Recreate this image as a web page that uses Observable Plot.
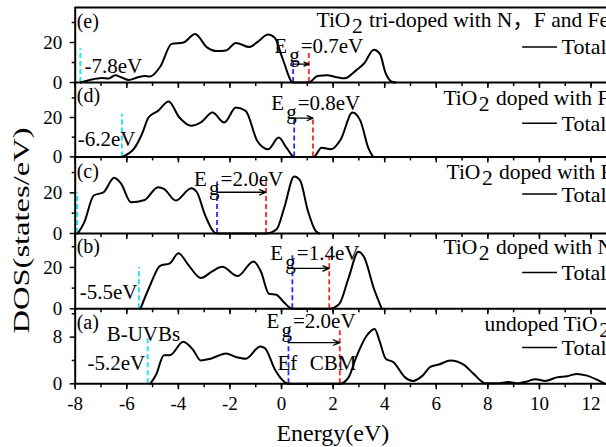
<!DOCTYPE html>
<html><head><meta charset="utf-8">
<script src="https://cdn.jsdelivr.net/npm/d3@7"></script>
<script src="https://cdn.jsdelivr.net/npm/@observablehq/plot@0.6"></script>
<style>
html,body{margin:0;padding:0;background:#fff;overflow:hidden;}
#chart{position:relative;width:606px;height:447px;overflow:hidden;background:#fff;}
</style></head><body><div id="chart"></div>
<script>
// ---------- DATA (panels listed top to bottom: e, d, c, b, a) ----------
const panelLetters = ["(e)", "(d)", "(c)", "(b)", "(a)"];
const titleMain = ["TiO", "TiO", "TiO", "TiO", "undoped TiO"];
const titleSub = ["2", "2", "2", "2", "2"];
const titleRest = ["tri-doped with N\uFF0CF and Fe", "doped with Fe", "doped with F", "doped with N", ""];
const legendText = "Total";
const egValues = ["=0.7eV", "=0.8eV", "=2.0eV", "=1.4eV", "=2.0eV"];
const bottomLabels = ["-7.8eV", "-6.2eV", "", "-5.5eV", "-5.2eV"];
const xTickValues = [-8, -6, -4, -2, 0, 2, 4, 6, 8, 10, 12];
const xMinorValues = [-8, -7, -6, -5, -4, -3, -2, -1, 0, 1, 2, 3, 4, 5, 6, 7, 8, 9, 10, 11, 12];
const yTickValues = [[0, 20], [0, 20], [0, 20], [0, 20], [0, 8]];
const yMinorValues = [[10, 30], [10, 30], [10, 30], [10, 30], [4, 12]];

// band edges (eV)
const bottomEnergy = [-7.8, -6.19, -7.92, -5.53, -5.19];
const vbmEnergy = [0.45, 0.49, -2.5, 0.42, 0.27];
const cbmEnergy = [1.06, 1.22, -0.6, 1.85, 2.26];

// total DOS curves
const energyE = [-7.8, -7.43, -6.97, -6.7, -6.45, -6.2, -5.92, -5.6, -5.3, -5.1, -4.7, -4.26, -3.8, -3.35, -2.9, -2.5, -2.15, -1.77, -1.24, -0.94, -0.52, -0.26, 0.04, 0.45, 1.06, 1.4, 1.77, 2.1, 2.45, 2.9, 3.2, 3.58, 3.81, 4.04, 4.26, 4.41];
const dosE = [0, 1.3, 2.3, 2.0, 3.6, 2.5, 1.3, 2.5, 3.3, 3.0, 8, 19.3, 20, 24.3, 17.7, 15.7, 16, 19.8, 17.7, 20.2, 24, 22.3, 12, 0, 0, 3.3, 3.6, 2.8, 2.1, 6.2, 9.5, 16.4, 14.4, 4.6, 0.5, 0];
const energyD = [-6.19, -5.69, -5.4, -5.16, -4.79, -4.38, -3.96, -3.5, -3.13, -2.68, -2.22, -1.77, -1.39, -0.94, -0.52, -0.11, 0.19, 0.49, 1.25, 1.55, 1.92, 2.3, 2.75, 3.06, 3.36, 3.55];
const dosD = [0, 4.7, 12, 20, 23.4, 28.1, 20, 15.8, 17.5, 22.5, 17.5, 25.1, 23.4, 8.1, 3.9, 9.8, 4.7, 0, 0, 4.7, 3.9, 9, 22.5, 18.3, 4.7, 0];
const energyC = [-7.9, -7.65, -7.28, -6.9, -6.49, -6.22, -5.84, -5.31, -4.79, -4.56, -4.1, -3.5, -3.28, -2.98, -2.6, -2.5, -0.6, -0.19, 0.11, 0.49, 0.72, 1.02, 1.32, 1.47];
const dosC = [0, 5.5, 18.7, 20.3, 27.4, 24.5, 15.4, 16.5, 22.8, 22, 16.2, 22.3, 20.3, 9.6, 0.5, 0, 0, 2.1, 12.9, 28.1, 26.1, 11.2, 1.3, 0];
const energyB = [-5.47, -5.09, -4.71, -4.33, -4.0, -3.6, -3.13, -2.7, -2.3, -1.7, -1.09, -0.8, -0.49, -0.2, 0.1, 0.42, 1.85, 2.23, 2.6, 2.98, 3.2, 3.58, 3.89];
const dosB = [0, 11.5, 20.8, 22, 26.8, 21, 14.9, 18, 20.3, 15.8, 22.9, 18, 7.3, 6.8, 3, 0, 0, 2.2, 14.9, 27.6, 25, 9.8, 0];
const energyA = [-5.09, -4.86, -4.56, -4.33, -3.81, -3.43, -3.13, -2.75, -2.15, -1.77, -1.39, -0.82, -0.64, -0.26, 0.0, 0.27, 2.26, 2.6, 2.9, 3.28, 3.61, 3.81, 4.04, 4.34, 4.79, 5.09, 5.47, 5.77, 6.1, 6.55, 7.06, 7.45, 7.9, 8.36, 8.8, 9.19, 9.52, 9.84, 10.23, 10.68, 11.07, 11.46, 11.84, 12.23, 12.55];
const dosA = [0, 1.6, 4.9, 4.9, 7.2, 5.8, 4.0, 4.3, 5.2, 4.6, 4.3, 6.4, 6.1, 2.5, 0.8, 0, 0, 1.1, 4.6, 8.1, 9.4, 7.2, 4.3, 3.7, 1.1, 0.5, 1.4, 2.9, 3.3, 4.0, 3.3, 1.7, 0.1, 0.1, 0.3, 0.1, 0.4, 0.8, 0.5, 1.1, 1.3, 1.7, 1.4, 0.7, 0];

const energies = [energyE, energyD, energyC, energyB, energyA];
const doses = [dosE, dosD, dosC, dosB, dosA];

// ---------- LAYOUT ----------
const W = 606, ML = 74.7;
const xDomain = [-8, 12.6];
const panelTop = [7.3, 82.3, 156.7, 232.7, 308];
const panelHeight = [75, 74.4, 76, 75.3, 75.3];
const yMax = [37.5, 37.8, 37.4, 36.4, 12.9];
const cyanTop = [16.9, 21.7, 20, 20, 7.8];
const blueTop = [11, 20, 25.3, 26.8, 9.3];
const redTop = [15, 19, 25.3, 25, 9.3];
const arrowY = [9.2, 19.7, 20.3, 19.5, 7.06];
const egY = [15.0, 23.7, 23.5, 23.7, 9.6];
const egDx = [-19, -23, -23, -22, -22];
const legendY = [17.8, 17.1, 19.4, 17.5, 6.2];
const titleDx = [241.3, 368.3, 371.3, 368.3, 409.3];
const titleDy = [19.4, 22.7, 21.3, 20.3, 22];
const edgeDx = [9.3, 2.6, 0, 4.6, 12.3];
const edgeUp = [10, 11, 0, 10, 14];

const CYAN = "#22e3f2", BLUE = "#1f2fff", RED = "#ff2626";
const FONT = '"Liberation Serif", "Times New Roman", "Noto Sans CJK SC", serif';
const DASH = "5,3";
const TITLE_SIZE = 21.5;

const ctx = document.createElement("canvas").getContext("2d");
function textWidth(s, size) { ctx.font = `${size}px ${FONT}`; return ctx.measureText(s).width; }

const chart = document.getElementById("chart");

function makePanel(i) {
  const last = i === 4;
  const mb = last ? 447 - 308 - panelHeight[4] : 0;
  const curve = energies[i].map((x, k) => ({x, y: doses[i][k]}));
  const subDx = textWidth(titleMain[i], TITLE_SIZE) + 1.5;
  const restDx = subDx + textWidth(titleSub[i] + " ", TITLE_SIZE) + 1;
  const marks = [];
  marks.push(Plot.ruleX([{x: bottomEnergy[i], y1: 0, y2: cyanTop[i]}], {x: "x", y1: "y1", y2: "y2", stroke: CYAN, strokeWidth: 2, strokeDasharray: DASH}));
  marks.push(
    Plot.ruleX([{x: vbmEnergy[i], y1: 0, y2: blueTop[i]}], {x: "x", y1: "y1", y2: "y2", stroke: BLUE, strokeWidth: 1.8, strokeDasharray: DASH}),
    Plot.ruleX([{x: cbmEnergy[i], y1: 0, y2: redTop[i]}], {x: "x", y1: "y1", y2: "y2", stroke: RED, strokeWidth: 1.8, strokeDasharray: DASH}),
    Plot.line(curve, {x: "x", y: "y", curve: "monotone-x", stroke: "black", strokeWidth: 2}),
    Plot.arrow([{x1: vbmEnergy[i], x2: cbmEnergy[i], y: arrowY[i]}], {x1: "x1", x2: "x2", y1: "y", y2: "y", stroke: "black", strokeWidth: 1.3, headLength: 8, headAngle: 45}),
    // Eg label: E, subscript g, value
    Plot.text([{x: vbmEnergy[i], y: egY[i]}], {x: "x", y: "y", text: () => "E", dx: egDx[i], textAnchor: "start", lineAnchor: "bottom", fontSize: 21}),
    Plot.text([{x: vbmEnergy[i], y: egY[i]}], {x: "x", y: "y", text: () => "g", dx: egDx[i] + 15, dy: 9, textAnchor: "start", lineAnchor: "bottom", fontSize: 21}),
    Plot.text([{x: vbmEnergy[i], y: egY[i], t: egValues[i]}], {x: "x", y: "y", text: "t", dx: egDx[i] + 26.5, textAnchor: "start", lineAnchor: "bottom", fontSize: 21}),
    // panel letter
    Plot.text([panelLetters[i]], {frameAnchor: "top-left", text: d => d, dx: 1.5, dy: 20, textAnchor: "start", lineAnchor: "bottom", fontSize: 20}),
    // title
    Plot.text([titleMain[i]], {frameAnchor: "top-left", text: d => d, dx: titleDx[i], dy: titleDy[i], textAnchor: "start", lineAnchor: "bottom", fontSize: TITLE_SIZE}),
    Plot.text([titleSub[i]], {frameAnchor: "top-left", text: d => d, dx: titleDx[i] + subDx, dy: titleDy[i] + 6, textAnchor: "start", lineAnchor: "bottom", fontSize: TITLE_SIZE}),
    // legend
    Plot.ruleY([{y: legendY[i], x1: 9.35, x2: 10.7}], {y: "y", x1: "x1", x2: "x2", stroke: "black", strokeWidth: 1.5}),
    Plot.text([{x: 10.86, y: legendY[i]}], {x: "x", y: "y", text: () => legendText, dy: 7.5, textAnchor: "start", lineAnchor: "bottom", fontSize: 22})
  );
  if (titleRest[i] !== "") {
    marks.push(Plot.text([titleRest[i]], {frameAnchor: "top-left", text: d => d, dx: titleDx[i] + restDx, dy: titleDy[i], textAnchor: "start", lineAnchor: "bottom", fontSize: TITLE_SIZE}));
  }
  if (bottomLabels[i] !== "") {
    marks.push(Plot.text([bottomLabels[i]], {frameAnchor: "bottom-left", text: d => d, dx: edgeDx[i], dy: -edgeUp[i], textAnchor: "start", lineAnchor: "bottom", fontSize: 21}));
  }
  if (last) {
    marks.push(
      Plot.text([{x: bottomEnergy[i], y: 7.25}], {x: "x", y: "y", text: () => "B-UVBs", dx: -41, textAnchor: "start", lineAnchor: "bottom", fontSize: 21}),
      Plot.text([{x: vbmEnergy[i], y: 2.35}], {x: "x", y: "y", text: () => "Ef", dx: -11, textAnchor: "start", lineAnchor: "bottom", fontSize: 21}),
      Plot.text([{x: cbmEnergy[i], y: 2.35}], {x: "x", y: "y", text: () => "CBM", dx: -30, textAnchor: "start", lineAnchor: "bottom", fontSize: 21}),
      Plot.text(["Energy(eV)"], {frameAnchor: "bottom", text: d => d, dx: -8, dy: 57, textAnchor: "middle", lineAnchor: "bottom", fontSize: 24})
    );
  }
  if (i === 2) {
    marks.push(Plot.text(["DOS(states/eV)"], {frameAnchor: "left", text: d => d, dx: -54, dy: 35, rotate: -90, textAnchor: "middle", lineAnchor: "middle", fontSize: 24}));
  }
  // axes
  marks.push(
    Plot.axisY({ticks: yMinorValues[i], tickSize: 3, tickFormat: () => "", label: null, strokeWidth: 1.5}),
    Plot.axisY({ticks: yTickValues[i], tickSize: 5, tickPadding: 8, label: null, fontSize: 19, strokeWidth: 1.5}),
    Plot.axisX({ticks: xMinorValues, tickSize: 4, tickFormat: () => "", label: null, strokeWidth: 1.5}),
    Plot.axisX({ticks: xTickValues, tickSize: 6, tickPadding: 7, tickFormat: last ? (d => String(d)) : (() => ""), label: null, fontSize: 19, strokeWidth: 1.5}),
    Plot.ruleX([xDomain[0]], {stroke: "black", strokeWidth: 2}),
    Plot.ruleY([0], {stroke: "black", strokeWidth: 2})
  );
  if (i === 0) marks.push(Plot.ruleY([yMax[0]], {stroke: "black", strokeWidth: 2}));

  return Plot.plot({
    width: W,
    height: panelHeight[i] + mb,
    marginLeft: ML, marginRight: 0, marginTop: 0, marginBottom: mb,
    x: {domain: xDomain},
    y: {domain: [0, yMax[i]]},
    style: {position: "absolute", left: "0px", top: panelTop[i] + "px", overflow: "visible", background: "transparent", fontFamily: FONT, fontSize: "19px", color: "black", maxWidth: "none"},
    marks
  });
}

for (let i = 0; i < 5; i++) chart.appendChild(makePanel(i));

// stretch the vertical axis title to the reference's length
chart.querySelectorAll("text").forEach(t => {
  if (t.textContent === "DOS(states/eV)") { t.setAttribute("textLength", "206"); t.setAttribute("lengthAdjust", "spacingAndGlyphs"); }
});
</script>
</body></html>
